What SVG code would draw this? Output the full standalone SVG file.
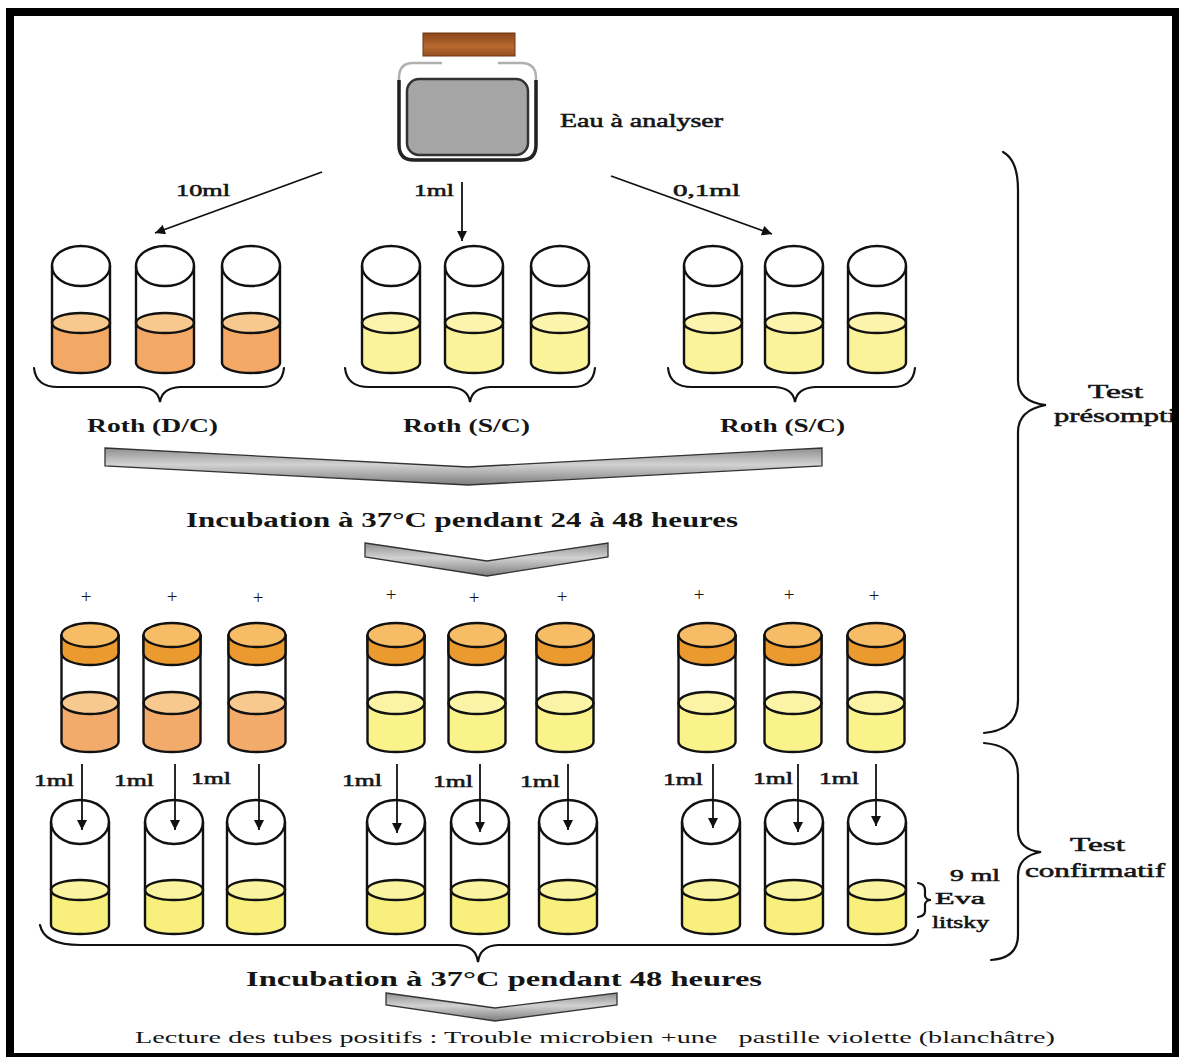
<svg xmlns="http://www.w3.org/2000/svg" xmlns:xlink="http://www.w3.org/1999/xlink" width="1179" height="1057" viewBox="0 0 1179 1057">
  <style>
    .o { stroke:#111; stroke-width:2.4; fill:none; stroke-linejoin:round; }
    .of { stroke:#111; stroke-width:2.4; stroke-linejoin:round; }
    .br { stroke:#111; stroke-width:2.2; fill:none; stroke-linecap:round; }
    .ar { stroke:#111; stroke-width:1.8; fill:none; }
    .t { font-family:"Liberation Serif","Times New Roman",serif; fill:#151515; }
    .b { font-weight:bold; }
    .s { stroke:#151515; stroke-width:0.55; }
    .chev { stroke:#333; stroke-width:1.3; fill:url(#gChev); }
  </style>
  <defs>
    <linearGradient id="gChev" x1="0" y1="0" x2="0" y2="1">
      <stop offset="0" stop-color="#8f8f8f"/>
      <stop offset="0.45" stop-color="#d2d2d2"/>
      <stop offset="1" stop-color="#7d7d7d"/>
    </linearGradient>
    <linearGradient id="gCap" x1="0" y1="0" x2="0" y2="1">
      <stop offset="0" stop-color="#8a461c"/>
      <stop offset="0.6" stop-color="#b8692f"/>
      <stop offset="1" stop-color="#94501f"/>
    </linearGradient>
    <marker id="ah" viewBox="0 0 10 10" refX="10" refY="5" markerUnits="userSpaceOnUse" markerWidth="13" markerHeight="10" orient="auto">
      <path d="M0,0 L10,5 L0,10 z" fill="#111"/>
    </marker>
    <marker id="ahs" viewBox="0 0 10 10" refX="10" refY="5" markerUnits="userSpaceOnUse" markerWidth="11" markerHeight="10" orient="auto">
      <path d="M0,0 L10,5 L0,10 z" fill="#111"/>
    </marker>

    <!-- first-row tube: open top, liquid at bottom -->
    <g id="shellTop">
      <ellipse cx="0" cy="0" rx="29" ry="20" fill="#fff" class="of"/>
      <path class="o" d="M-29,0 L-29,97 A29,10 0 0 0 29,97 L29,0"/>
    </g>
    <g id="liqTopO">
      <path d="M-29,57 L-29,97 A29,10 0 0 0 29,97 L29,57 Z" fill="#f3a866"/>
      <ellipse cx="0" cy="57" rx="29" ry="10" fill="#f8c98e" class="of"/>
    </g>
    <g id="liqTopY">
      <path d="M-29,57 L-29,97 A29,10 0 0 0 29,97 L29,57 Z" fill="#fbf39a"/>
      <ellipse cx="0" cy="57" rx="29" ry="10" fill="#fcf4ac" class="of"/>
    </g>

    <!-- incubated tube: orange cap, liquid at bottom -->
    <g id="shellMid">
      <path class="o" d="M-28.5,0 L-28.5,107 A28.5,10 0 0 0 28.5,107 L28.5,0"/>
      <path class="of" d="M-28.5,0 L-28.5,18 A28.5,12 0 0 0 28.5,18 L28.5,0 Z" fill="#eb9a2f"/>
      <ellipse cx="0" cy="0" rx="28.5" ry="12" fill="#f6bd66" class="of"/>
    </g>
    <g id="liqMidO">
      <path d="M-28.5,68 L-28.5,107 A28.5,10 0 0 0 28.5,107 L28.5,68 Z" fill="#f3ab6c"/>
      <ellipse cx="0" cy="68" rx="28.5" ry="11" fill="#f8c98f" class="of"/>
    </g>
    <g id="liqMidY">
      <path d="M-28.5,68 L-28.5,107 A28.5,10 0 0 0 28.5,107 L28.5,68 Z" fill="#faf28a"/>
      <ellipse cx="0" cy="68" rx="28.5" ry="11" fill="#fbf4a6" class="of"/>
    </g>

    <!-- confirmation tube: open top, Eva Litsky broth -->
    <g id="tubeBot">
      <path d="M-29,68 L-29,103 A29,9 0 0 0 29,103 L29,68 Z" fill="#f8ef7c"/>
      <ellipse cx="0" cy="68" rx="29" ry="10" fill="#faf3a0" class="of"/>
      <ellipse cx="0" cy="0" rx="29" ry="22" fill="#fff" class="of"/>
      <path class="o" d="M-29,0 L-29,103 A29,9 0 0 0 29,103 L29,0"/>
    </g>
  </defs>

  <rect width="1179" height="1057" fill="#fff"/>

  <!-- water sample bottle -->
  <g id="bottle">
    <path d="M442,63 L413,63 Q399,63 399,78 L399,145 Q399,160 414,160 L521,160 Q536,160 536,145 L536,78 Q536,63 521,63 L498,63" fill="#fff" stroke="#b0b0b0" stroke-width="2.5"/>
    <path d="M399,80 L399,145 Q399,160 414,160 L521,160 Q536,160 536,145 L536,80" fill="none" stroke="#222" stroke-width="3.5"/>
    <rect x="407" y="79" width="121" height="76" rx="12" fill="#a5a5a5" stroke="#333" stroke-width="2.5"/>
    <rect x="423" y="33" width="92" height="23" fill="url(#gCap)" stroke="#6e3713" stroke-width="1"/>
  </g>
  <g id="label-eau"><text class="t s" x="560" y="127" font-size="19" textLength="163" lengthAdjust="spacingAndGlyphs">Eau à analyser</text></g>

  <!-- first row: Roth broth tubes -->
  <g id="roth-dc">
    <g id="t1a" transform="translate(81,266)"><use href="#liqTopO"/><use href="#shellTop"/></g>
    <g id="t1b" transform="translate(165,266)"><use href="#liqTopO"/><use href="#shellTop"/></g>
    <g id="t1c" transform="translate(251,266)"><use href="#liqTopO"/><use href="#shellTop"/></g>
  </g>
  <g id="roth-sc-1">
    <g id="t1d" transform="translate(391,266)"><use href="#liqTopY"/><use href="#shellTop"/></g>
    <g id="t1e" transform="translate(474,266)"><use href="#liqTopY"/><use href="#shellTop"/></g>
    <g id="t1f" transform="translate(560,266)"><use href="#liqTopY"/><use href="#shellTop"/></g>
  </g>
  <g id="roth-sc-2">
    <g id="t1g" transform="translate(713,266)"><use href="#liqTopY"/><use href="#shellTop"/></g>
    <g id="t1h" transform="translate(794,266)"><use href="#liqTopY"/><use href="#shellTop"/></g>
    <g id="t1i" transform="translate(877,266)"><use href="#liqTopY"/><use href="#shellTop"/></g>
  </g>

  <!-- second row: positive tubes after incubation -->
  <g id="incubated-dc">
    <g id="t2a" transform="translate(90,635)"><use href="#liqMidO"/><use href="#shellMid"/></g>
    <g id="t2b" transform="translate(172,635)"><use href="#liqMidO"/><use href="#shellMid"/></g>
    <g id="t2c" transform="translate(257,635)"><use href="#liqMidO"/><use href="#shellMid"/></g>
  </g>
  <g id="incubated-sc-1">
    <g id="t2d" transform="translate(396,635)"><use href="#liqMidY"/><use href="#shellMid"/></g>
    <g id="t2e" transform="translate(477,635)"><use href="#liqMidY"/><use href="#shellMid"/></g>
    <g id="t2f" transform="translate(565,635)"><use href="#liqMidY"/><use href="#shellMid"/></g>
  </g>
  <g id="incubated-sc-2">
    <g id="t2g" transform="translate(707,635)"><use href="#liqMidY"/><use href="#shellMid"/></g>
    <g id="t2h" transform="translate(793,635)"><use href="#liqMidY"/><use href="#shellMid"/></g>
    <g id="t2i" transform="translate(876,635)"><use href="#liqMidY"/><use href="#shellMid"/></g>
  </g>

  <!-- third row: Eva Litsky confirmation tubes -->
  <g id="eva-litsky">
    <g id="t3a" transform="translate(80,822)"><use href="#tubeBot"/></g>
    <g id="t3b" transform="translate(174,822)"><use href="#tubeBot"/></g>
    <g id="t3c" transform="translate(256,822)"><use href="#tubeBot"/></g>
    <g id="t3d" transform="translate(396,822)"><use href="#tubeBot"/></g>
    <g id="t3e" transform="translate(480,822)"><use href="#tubeBot"/></g>
    <g id="t3f" transform="translate(568,822)"><use href="#tubeBot"/></g>
    <g id="t3g" transform="translate(711,822)"><use href="#tubeBot"/></g>
    <g id="t3h" transform="translate(794,822)"><use href="#tubeBot"/></g>
    <g id="t3i" transform="translate(877,822)"><use href="#tubeBot"/></g>
  </g>

  <!-- grouping braces -->
  <g id="braces">
    <path class="br" d="M34,368 Q36,387 58,387 L140,387 Q158,388 160,402 Q162,388 180,387 L262,387 Q282,387 284,368"/>
    <path class="br" d="M345,368 Q347,387 369,387 L450,387 Q468,388 470,402 Q472,388 490,387 L573,387 Q593,387 595,368"/>
    <path class="br" d="M668,368 Q670,387 692,387 L775,387 Q793,388 795,402 Q797,388 815,387 L893,387 Q913,387 915,368"/>
    <path class="br" d="M40,925 Q44,945 80,945 L458,945 Q476,946 478,962 Q480,946 498,945 L885,945 Q915,945 918,930"/>
    <path class="br" d="M918,883 Q925,884 925,890 L925,896 Q926,900 931,900 Q926,900 925,904 L925,911 Q925,916 918,917"/>
    <path class="br" d="M1003,152 Q1018,160 1018,190 L1018,380 Q1018,402 1046,405 Q1018,410 1018,432 L1018,700 Q1018,730 984,733"/>
    <path class="br" d="M984,743 Q1018,746 1018,775 L1018,830 Q1018,850 1041,852 Q1018,856 1018,876 L1018,935 Q1018,958 991,960"/>
  </g>

  <!-- incubation chevrons -->
  <g id="chevrons">
    <polygon class="chev" points="105,448 468,467 822,448 822,466 468,485 105,466"/>
    <polygon class="chev" points="365,543 487,561 608,543 608,557 487,576 365,557"/>
    <polygon class="chev" points="386,993 495,1008 617,993 617,1005 495,1021 386,1005"/>
  </g>

  <!-- inoculation arrows -->
  <g id="connectors">
    <line class="ar" x1="322" y1="172" x2="155" y2="233" marker-end="url(#ah)"/>
    <line class="ar" x1="462" y1="182" x2="462" y2="241" marker-end="url(#ah)"/>
    <line class="ar" x1="611" y1="176" x2="772" y2="234" marker-end="url(#ah)"/>
    <line class="ar" x1="82" y1="764" x2="82" y2="830" marker-end="url(#ahs)"/>
    <line class="ar" x1="175" y1="764" x2="175" y2="830" marker-end="url(#ahs)"/>
    <line class="ar" x1="259" y1="764" x2="259" y2="830" marker-end="url(#ahs)"/>
    <line class="ar" x1="397" y1="764" x2="397" y2="833" marker-end="url(#ahs)"/>
    <line class="ar" x1="480" y1="764" x2="480" y2="832" marker-end="url(#ahs)"/>
    <line class="ar" x1="568" y1="764" x2="568" y2="830" marker-end="url(#ahs)"/>
    <line class="ar" x1="713" y1="764" x2="713" y2="828" marker-end="url(#ahs)"/>
    <line class="ar" x1="798" y1="764" x2="798" y2="832" marker-end="url(#ahs)"/>
    <line class="ar" x1="876" y1="764" x2="876" y2="826" marker-end="url(#ahs)"/>
  </g>

  <!-- labels -->
  <g id="labels">
    <text class="t s" x="176" y="196" font-size="17" textLength="54" lengthAdjust="spacingAndGlyphs">10ml</text>
    <text class="t s" x="414" y="196" font-size="17" textLength="40" lengthAdjust="spacingAndGlyphs">1ml</text>
    <text class="t s" x="673" y="196" font-size="17" textLength="67" lengthAdjust="spacingAndGlyphs">0,1ml</text>
    <text class="t b" x="87" y="432" font-size="19" textLength="131" lengthAdjust="spacingAndGlyphs">Roth (D/C)</text>
    <text class="t b" x="403" y="432" font-size="19" textLength="127" lengthAdjust="spacingAndGlyphs">Roth (S/C)</text>
    <text class="t b" x="720" y="432" font-size="19" textLength="125" lengthAdjust="spacingAndGlyphs">Roth (S/C)</text>
    <text class="t s" x="1088" y="398" font-size="19" textLength="55" lengthAdjust="spacingAndGlyphs">Test</text>
    <text class="t s" x="1054" y="422" font-size="19" textLength="122" lengthAdjust="spacingAndGlyphs">présompti</text>
    <text class="t b" x="186" y="527" font-size="20" textLength="552" lengthAdjust="spacingAndGlyphs">Incubation à 37°C pendant 24 à 48 heures</text>
    <g font-size="19" text-anchor="middle">
      <text class="t" x="86" y="603">+</text>
      <text class="t" x="172" y="603">+</text>
      <text class="t" x="258" y="604">+</text>
      <text class="t" x="391" y="601">+</text>
      <text class="t" x="474" y="604">+</text>
      <text class="t" x="562" y="603">+</text>
      <text class="t" x="699" y="601">+</text>
      <text class="t" x="789" y="601">+</text>
      <text class="t" x="874" y="602">+</text>
    </g>
    <g font-size="16">
      <text class="t s" x="34" y="786" textLength="40" lengthAdjust="spacingAndGlyphs">1ml</text>
      <text class="t s" x="114" y="786" textLength="40" lengthAdjust="spacingAndGlyphs">1ml</text>
      <text class="t s" x="191" y="784" textLength="40" lengthAdjust="spacingAndGlyphs">1ml</text>
      <text class="t s" x="342" y="786" textLength="40" lengthAdjust="spacingAndGlyphs">1ml</text>
      <text class="t s" x="433" y="787" textLength="40" lengthAdjust="spacingAndGlyphs">1ml</text>
      <text class="t s" x="520" y="787" textLength="40" lengthAdjust="spacingAndGlyphs">1ml</text>
      <text class="t s" x="663" y="785" textLength="40" lengthAdjust="spacingAndGlyphs">1ml</text>
      <text class="t s" x="753" y="784" textLength="40" lengthAdjust="spacingAndGlyphs">1ml</text>
      <text class="t s" x="819" y="784" textLength="40" lengthAdjust="spacingAndGlyphs">1ml</text>
    </g>
    <text class="t s" x="950" y="881" font-size="17" textLength="50" lengthAdjust="spacingAndGlyphs">9 ml</text>
    <text class="t s" x="935" y="904" font-size="17" textLength="50" lengthAdjust="spacingAndGlyphs">Eva</text>
    <text class="t s" x="932" y="928" font-size="17" textLength="57" lengthAdjust="spacingAndGlyphs">litsky</text>
    <text class="t s" x="1070" y="851" font-size="19" textLength="55" lengthAdjust="spacingAndGlyphs">Test</text>
    <text class="t s" x="1025" y="877" font-size="19" textLength="140" lengthAdjust="spacingAndGlyphs">confirmatif</text>
    <text class="t b" x="246" y="986" font-size="20" textLength="516" lengthAdjust="spacingAndGlyphs">Incubation à 37°C pendant 48 heures</text>
    <text class="t" x="135" y="1043" font-size="17" textLength="920" lengthAdjust="spacingAndGlyphs" style="white-space:pre">Lecture des tubes positifs : Trouble microbien +une   pastille violette (blanchâtre)</text>
  </g>

  <!-- outer frame -->
  <g id="frame" fill="#000">
    <rect x="6" y="8" width="1173" height="8"/>
    <rect x="6" y="8" width="8" height="1049"/>
    <rect x="1172" y="8" width="7" height="1049"/>
    <rect x="6" y="1053" width="1173" height="4"/>
  </g>
</svg>
